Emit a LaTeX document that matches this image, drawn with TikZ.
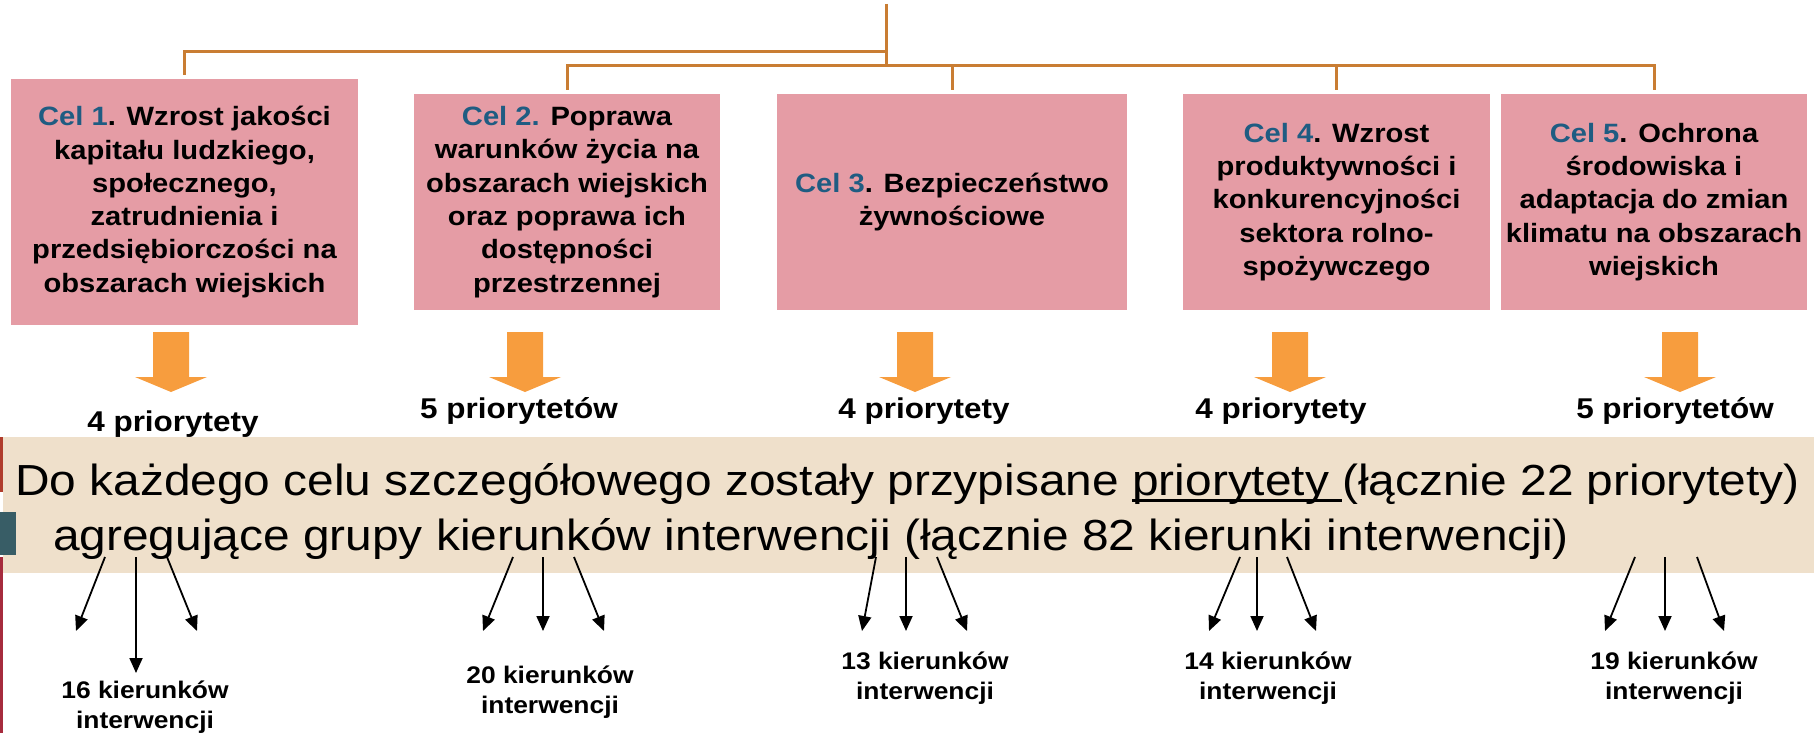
\documentclass[tikz,border=0pt]{standalone}
\usepackage{fontspec}
\setmainfont{Liberation Sans}[FakeStretch=1.1]
\usetikzlibrary{arrows.meta}
\definecolor{boxpink}{HTML}{E59CA5}
\definecolor{celblue}{HTML}{1F5C82}
\definecolor{connbrown}{HTML}{C97D33}
\definecolor{arrowor}{HTML}{F79D3E}
\definecolor{bandtan}{HTML}{EFE0CB}
\definecolor{barred}{HTML}{B03C2C}
\definecolor{barcrimson}{HTML}{A62B3D}
\definecolor{barteal}{HTML}{385D66}
\newcommand\myuline[1]{\setbox0\hbox{#1}\rlap{\rule[-6.5pt]{\wd0}{3pt}}\box0}
\newcommand\cel[1]{\textcolor{celblue}{#1}}
\begin{document}
\begin{tikzpicture}[x=1pt,y=-1pt,
  goal/.style={rectangle, fill=boxpink, inner sep=0pt, align=center, font=\fontsize{26.5}{33.3}\selectfont\bfseries},
  conn/.style={draw=connbrown, line width=3pt},
  prio/.style={font=\fontsize{28.6}{34}\selectfont\bfseries, inner sep=0pt, anchor=base},
  maintext/.style={font=\fontsize{43.5}{55}\selectfont, inner sep=0pt, anchor=base west},
  kier/.style={font=\fontsize{24}{30}\selectfont\bfseries, inner sep=0pt, anchor=base, align=center},
  karrow/.style={line width=1.8pt, -{Triangle[length=15pt,width=13pt]}},
  blk/.style={fill=arrowor}]
\useasboundingbox (0,0) rectangle (1814,733);
% band and left edge marks
\fill[bandtan] (3,437) rectangle (1814,573);
\fill[barred] (0,437) rectangle (3,492);
\fill[barteal] (0,512) rectangle (16,555);
\fill[barcrimson] (0,557) rectangle (3,733);
% goal boxes
\node[goal, minimum width=347pt, minimum height=246pt] (b1) at (184.5,202) {\cel{Cel 1}. Wzrost jakości\\kapitału ludzkiego,\\społecznego,\\zatrudnienia i\\przedsiębiorczości na\\obszarach wiejskich};
\node[goal, minimum width=306pt, minimum height=216pt] (b2) at (567,202) {\cel{Cel 2.} Poprawa\\warunków życia na\\obszarach wiejskich\\oraz poprawa ich\\dostępności\\przestrzennej};
\node[goal, minimum width=350pt, minimum height=216pt] (b3) at (952,202) {\cel{Cel 3}. Bezpieczeństwo\\żywnościowe};
\node[goal, minimum width=307pt, minimum height=216pt] (b4) at (1336.5,202) {\cel{Cel 4}. Wzrost\\produktywności i\\konkurencyjności\\sektora rolno-\\spożywczego};
\node[goal, minimum width=306pt, minimum height=216pt] (b5) at (1654,202) {\cel{Cel 5}. Ochrona\\środowiska i\\adaptacja do zmian\\klimatu na obszarach\\wiejskich};
% tree connectors
\coordinate (root) at (886,4);
\coordinate (j1) at (886,52);
\coordinate (j2) at (886,66);
\draw[conn] (root) -- (j2);
\draw[conn, shorten >=4pt] (j1) -| (b1.north);
\foreach \b in {b2,b3,b4,b5} \draw[conn, shorten >=4pt] (j2) -| (\b.north);
% block arrows
\foreach \x in {171,525,915,1290,1680}
  \fill[blk] ({\x-18},332) -- ({\x+18},332) -- ({\x+18},377) -- ({\x+36},377) -- (\x,392) -- ({\x-36},377) -- ({\x-18},377) -- cycle;
% priority labels
\node[prio] (p1) at (173,431) {4 priorytety};
\node[prio] (p2) at (519,418) {5 priorytetów};
\node[prio] (p3) at (924,418) {4 priorytety};
\node[prio] (p4) at (1281,418) {4 priorytety};
\node[prio] (p5) at (1675,418) {5 priorytetów};
% main text
\node[maintext] (t1) at (15,495) {Do każdego celu szczegółowego zostały przypisane \myuline{priorytety }(łącznie 22 priorytety)};
\node[maintext] (t2) at (53,550) {agregujące grupy kierunków interwencji (łącznie 82 kierunki interwencji)};
% thin arrows
\foreach \sx/\ex/\ey [count=\i] in {105/76/631, 136/136/673, 167/197/631,
    513/483/631, 543/543/631, 574/604/631,
    876/862/631, 906/906/631, 937/967/631,
    1240/1209/631, 1257/1257/631, 1287/1316/631,
    1635/1605/631, 1665/1665/631, 1697/1724/631} {
  \coordinate (s\i) at (\sx,557);
  \coordinate (e\i) at (\ex,\ey);
  \draw[karrow] (s\i) -- (e\i);
}
% bottom labels (base anchor = last line baseline)
\node[kier] (k1) at (145,728) {16 kierunków\\interwencji};
\node[kier] (k2) at (550,713) {20 kierunków\\interwencji};
\node[kier] (k3) at (925,699) {13 kierunków\\interwencji};
\node[kier] (k4) at (1268,699) {14 kierunków\\interwencji};
\node[kier] (k5) at (1674,699) {19 kierunków\\interwencji};
\end{tikzpicture}
\end{document}
